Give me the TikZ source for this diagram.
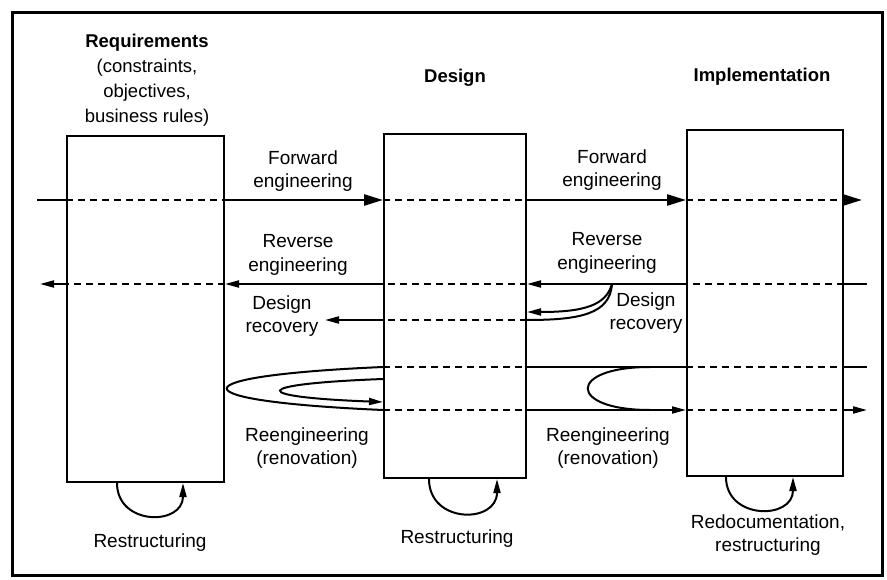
\documentclass[tikz,border=0pt]{standalone}
\usepackage{fontspec}
\setmainfont{Liberation Sans}
\usetikzlibrary{arrows.meta}
\begin{document}
\begin{tikzpicture}[x=1pt,y=-1pt,
  stage/.style={draw,line width=2pt,inner sep=0pt},
  lbl/.style={font=\fontsize{19}{23.5}\selectfont,align=center,inner sep=0pt},
  ttl/.style={font=\fontsize{18.5}{25}\selectfont,align=center,inner sep=0pt},
  flow/.style={line width=2pt},
  fwd/.style={line width=2.6pt},
  bigtip/.style={-{Triangle[length=19pt,width=11pt]}},
  tip/.style={-{Triangle[length=14pt,width=7pt]}},
  hidden/.style={line width=1.8pt,dash pattern=on 7pt off 5pt}]
\useasboundingbox (0,0) rectangle (887,580);
\draw[line width=3pt] (12,13) rectangle (882,575);

% the three stages
\node[stage,minimum width=157pt,minimum height=346pt] (req) at (145.5,309) {};
\node[stage,minimum width=142pt,minimum height=344pt] (des) at (455,306) {};
\node[stage,minimum width=156pt,minimum height=346pt] (imp) at (765,303) {};

% headings
\node[ttl] (reqT) at (147,80) {\textbf{Requirements}\\(constraints,\\objectives,\\business rules)};
\node[ttl,font=\fontsize{18.5}{25}\selectfont\bfseries] (desT) at (455,78) {Design};
\node[ttl,font=\fontsize{18.5}{25}\selectfont\bfseries] (impT) at (762,77) {Implementation};

% row levels
\coordinate (rF) at (0,200);
\coordinate (rR) at (0,284);
\coordinate (rDa) at (0,312);
\coordinate (rD) at (0,320);
\coordinate (rU) at (0,367);
\coordinate (rUi) at (0,379);
\coordinate (rLi) at (0,402);
\coordinate (rL) at (0,410);

% free ends
\coordinate (fStart) at (37,200);
\coordinate (fEnd) at (862,200);
\coordinate (rStart) at (867,284);
\coordinate (rEnd) at (40,284);
\coordinate (dEnd) at (325,320);
\coordinate (uEnd) at (867,367);
\coordinate (lEnd) at (867,410);
\coordinate (rBend) at (612,284);
\coordinate (loopTop) at (650,367);
\coordinate (loopBot) at (650,410);

% forward engineering
\draw[fwd] (fStart) -- (req.west |- rF);
\draw[hidden] (req.west |- rF) -- (req.east |- rF);
\draw[fwd,bigtip] (req.east |- rF) -- (des.west |- rF);
\draw[hidden] (des.west |- rF) -- (des.east |- rF);
\draw[fwd,bigtip] (des.east |- rF) -- (imp.west |- rF);
\draw[hidden] (imp.west |- rF) -- (imp.east |- rF);
\draw[fwd,bigtip] (imp.east |- rF) -- (fEnd);

% reverse engineering
\draw[flow] (rStart) -- (imp.east |- rR);
\draw[hidden] (imp.east |- rR) -- (imp.west |- rR);
\draw[flow,tip] (imp.west |- rR) -- (des.east |- rR);
\draw[hidden] (des.east |- rR) -- (des.west |- rR);
\draw[flow,tip] (des.west |- rR) -- (req.east |- rR);
\draw[hidden] (req.east |- rR) -- (req.west |- rR);
\draw[flow,tip] (req.west |- rR) -- (rEnd);

% design recovery
\draw[flow,tip] (rBend) .. controls (606,305) and (585,312) .. (des.east |- rDa);
\draw[flow] (rBend) .. controls (610,314) and (580,320) .. (des.east |- rD);
\draw[hidden] (des.east |- rD) -- (des.west |- rD);
\draw[flow,tip] (des.west |- rD) -- (dEnd);

% reengineering
\draw[flow] (des.west |- rU) .. controls (174.7,376) and (174.7,401) .. (des.west |- rL);
\draw[flow,tip] (des.west |- rUi) .. controls (248,384) and (248,397) .. (des.west |- rLi);
\draw[hidden] (des.west |- rU) -- (des.east |- rU);
\draw[hidden] (des.west |- rL) -- (des.east |- rL);
\draw[flow] (des.east |- rU) -- (imp.west |- rU);
\draw[flow,tip] (des.east |- rL) -- (imp.west |- rL);
\draw[flow] (loopTop) .. controls (567,367) and (567,410) .. (loopBot);
\draw[hidden] (imp.west |- rU) -- (imp.east |- rU);
\draw[hidden] (imp.west |- rL) -- (imp.east |- rL);
\draw[flow] (imp.east |- rU) -- (uEnd);
\draw[flow,tip] (imp.east |- rL) -- (lEnd);

% restructuring loops
\draw[flow,tip] ([xshift=-28.5pt]req.south) .. controls +(0,43) and +(0,43) .. ([xshift=37.5pt]req.south);
\draw[flow,tip] ([xshift=-26pt]des.south) .. controls +(0,45) and +(0,45) .. ([xshift=42pt]des.south);
\draw[flow,tip] ([xshift=-39pt]imp.south) .. controls +(0,43) and +(0,43) .. ([xshift=28pt]imp.south);

% labels
\node[lbl] (fwd1) at (303,171) {Forward\\engineering};
\node[lbl] (fwd2) at (612,170) {Forward\\engineering};
\node[lbl] (rev1) at (298,255) {Reverse\\engineering};
\node[lbl] (rev2) at (607,253) {Reverse\\engineering};
\node[lbl] (rec1) at (282,316) {Design\\recovery};
\node[lbl] (rec2) at (646,313) {Design\\recovery};
\node[lbl] (ren1) at (307,448) {Reengineering\\(renovation)};
\node[lbl] (ren2) at (608,448) {Reengineering\\(renovation)};
\node[lbl] (res1) at (150,543) {Restructuring};
\node[lbl] (res2) at (457,539) {Restructuring};
\node[lbl] (redoc) at (768,535) {Redocumentation,\\restructuring};
\end{tikzpicture}
\end{document}
